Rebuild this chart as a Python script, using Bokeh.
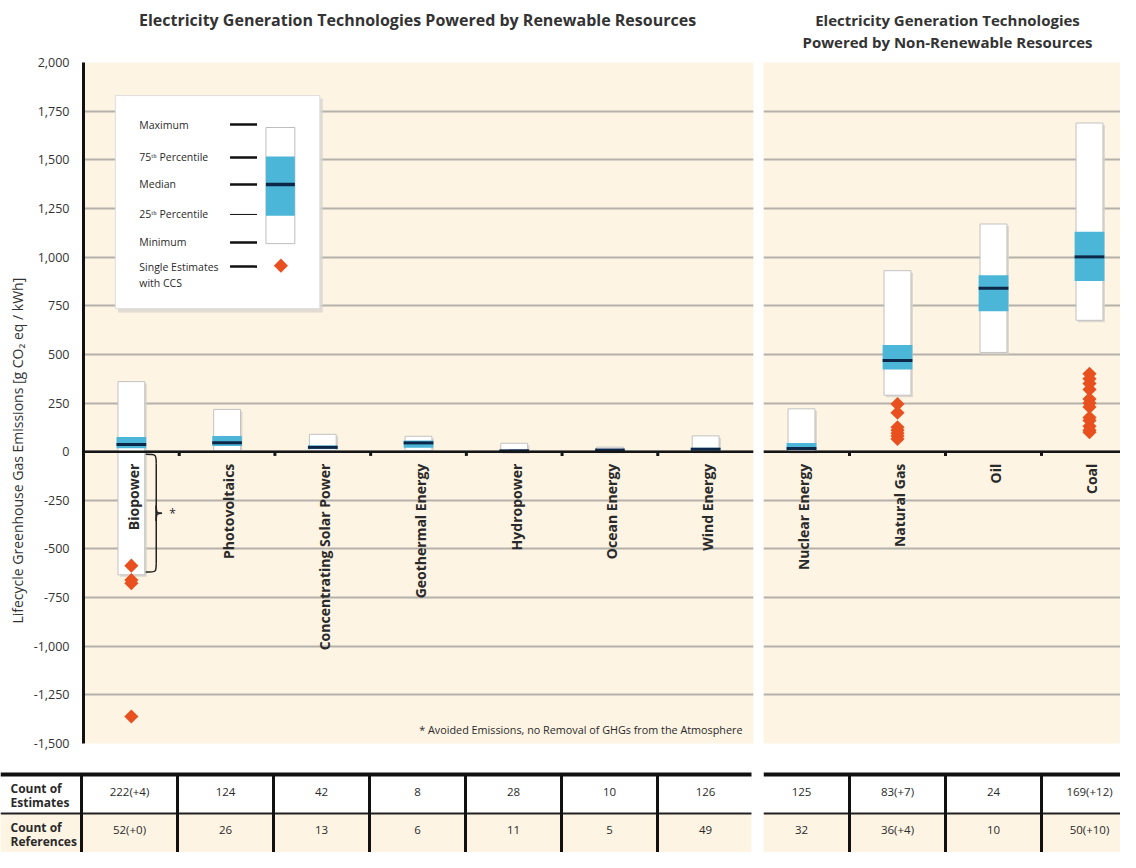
import math
from bokeh.plotting import figure
from bokeh.layouts import row, column
from bokeh.models import Range1d, FixedTicker, NumeralTickFormatter, Span
from bokeh.core.properties import value
from bokeh.embed import file_html
from bokeh.resources import INLINE

# ---------------- data ----------------
ren_tech = ["Biopower", "Photovoltaics", "Concentrating Solar Power", "Geothermal Energy",
            "Hydropower", "Ocean Energy", "Wind Energy"]
ren_min = [-633, 5, 7, 6, 0, 2, 2]
ren_q1 = [18, 29, 14, 20, 3, 6, 8]
ren_med = [37, 46, 22, 45, 4, 8, 12]
ren_q3 = [75, 80, 32, 57, 7, 9, 20]
ren_max = [360, 217, 89, 79, 43, 23, 81]
ren_estimates = ["222(+4)", "124", "42", "8", "28", "10", "126"]
ren_references = ["52(+0)", "26", "13", "6", "11", "5", "49"]

non_tech = ["Nuclear Energy", "Natural Gas", "Oil", "Coal"]
non_min = [1, 290, 510, 675]
non_q1 = [8, 422, 722, 877]
non_med = [16, 469, 840, 1001]
non_q3 = [45, 548, 907, 1130]
non_max = [220, 930, 1170, 1689]
non_estimates = ["125", "83(+7)", "24", "169(+12)"]
non_references = ["32", "36(+4)", "10", "50(+10)"]

bio_ccs = [-586, -660, -676, -1361]
gas_ccs = [245, 200, 125, 110, 95, 80, 65]
coal_ccs = [400, 375, 350, 320, 270, 250, 230, 175, 160, 130, 110, 100]

y_ticks = list(range(-1500, 2001, 250))

title_left = "Electricity Generation Technologies Powered by Renewable Resources"
title_right = ["Electricity Generation Technologies", "Powered by Non-Renewable Resources"]
y_title = "Lifecycle Greenhouse Gas Emissions [g CO\u2082 eq / kWh]"

# ---------------- style ----------------
BEIGE = "#fdf4e3"
BLUE = "#4cb6d8"
NAVY = "#0c2748"
ORANGE = "#e8511f"
GRID = "#b4b1aa"
TXT = "#2a2a2a"
FONT = value("Open Sans")
FONT_NAME = "Open Sans"

Y0, Y1 = -1500, 2000
TITLE_H = 52
MB_TOP, MB_BOT = 10, 17
TOP_H = MB_TOP + 681 + MB_BOT
TAB_H = 92
LAB_W = 30
LEFT_W, RIGHT_W = 763 - LAB_W, 357
CAT_PX = 96.0
LEFT_B, GAP_B = 81 - LAB_W, 10
RIGHT_START = 1 - 38 / CAT_PX
RIGHT_END = 4 + 31 / CAT_PX
Y_RANGE = Range1d(Y0, Y1)


def blank_fig(width, height, xr, yr, mbt=0, mbb=0):
    f = figure(width=width, height=height, x_range=xr, y_range=yr,
               output_backend="svg", toolbar_location=None, title=None,
               min_border_left=0, min_border_right=0, min_border_top=mbt, min_border_bottom=mbb)
    f.axis.visible = False
    f.grid.visible = False
    f.outline_line_color = None
    f.background_fill_color = "white"
    f.border_fill_color = "white"
    return f


def base_fig(width, x_range, mbl, mbr):
    p = figure(width=width, height=TOP_H, x_range=x_range, y_range=Y_RANGE,
               output_backend="svg", toolbar_location=None, title=None,
               min_border_left=mbl, min_border_right=mbr, min_border_top=MB_TOP,
               min_border_bottom=MB_BOT)
    p.background_fill_color = BEIGE
    p.border_fill_color = "white"
    p.outline_line_color = None
    p.xgrid.visible = False
    p.ygrid.ticker = FixedTicker(ticks=y_ticks)
    p.ygrid.grid_line_color = GRID
    p.ygrid.grid_line_width = 2
    p.xaxis.visible = False
    return p


def draw_panel(p, names, mins, q1, med, q3, maxs):
    n = len(names)
    xs = list(range(1, n + 1))
    hw, bw = 0.14, 0.155
    dx, dy = 2 / CAT_PX, 2 / 0.1946
    p.quad(left=[x - hw + dx for x in xs], right=[x + hw + dx for x in xs],
           bottom=[m - dy for m in mins], top=[m - dy for m in maxs],
           fill_color="#d6d1c8", fill_alpha=0.8, line_color=None)
    p.quad(left=[x - hw for x in xs], right=[x + hw for x in xs], bottom=mins, top=maxs,
           fill_color="white", line_color="#c2c2c2", line_width=1)
    p.quad(left=[x - bw for x in xs], right=[x + bw for x in xs], bottom=q1, top=q3,
           fill_color=BLUE, line_color=None)
    p.segment(x0=[x - bw for x in xs], x1=[x + bw for x in xs], y0=med, y1=med,
              line_color=NAVY, line_width=3)
    p.add_layout(Span(location=0, dimension="width", line_color="#151515", line_width=2.5))
    bounds = [x + 0.5 for x in xs[:-1]]
    p.segment(x0=bounds, x1=bounds, y0=[0] * len(bounds), y1=[-22] * len(bounds),
              line_color="#151515", line_width=3)
    p.text(x=[x + 0.02 for x in xs], y=[-62] * n, text=names, angle=math.pi / 2,
           text_align="right", text_baseline="middle", text_font=FONT,
           text_font_style="bold", text_font_size="14px", text_color=TXT)


def diamonds(p, xpos, vals, size=10):
    p.scatter(x=[xpos] * len(vals), y=vals, marker="square", angle=math.pi / 4, size=size,
              fill_color=ORANGE, line_color=None)


# ---------------- titles row ----------------
tf1 = blank_fig(LAB_W + LEFT_W, TITLE_H, Range1d(0, LAB_W + LEFT_W), Range1d(TITLE_H, 0))
tf1.text(x=[417], y=[19], text=[title_left], text_align="center", text_baseline="middle",
         text_font=FONT, text_font_style="bold", text_font_size="16px", text_color="#333333")
tf2 = blank_fig(RIGHT_W, TITLE_H, Range1d(0, RIGHT_W), Range1d(TITLE_H, 0))
tf2.text(x=[184, 184], y=[19, 41], text=title_right, text_align="center",
         text_baseline="middle", text_font=FONT, text_font_style="bold",
         text_font_size="15px", text_color="#333333")

# ---------------- y-axis title column ----------------
p0 = blank_fig(LAB_W, TOP_H, Range1d(0, LAB_W), Y_RANGE, MB_TOP, MB_BOT)
p0.text(x=[17], y=[5], text=[y_title], angle=math.pi / 2, text_align="center",
        text_baseline="middle", text_font=FONT, text_font_size="14px", text_color="#333333")

# ---------------- left (renewable) panel ----------------
p1 = base_fig(LEFT_W, Range1d(0.5, 7.5), LEFT_B, GAP_B)
p1.yaxis.ticker = FixedTicker(ticks=y_ticks)
p1.yaxis.formatter = NumeralTickFormatter(format="0,0")
p1.yaxis.axis_line_width = 3
p1.yaxis.axis_line_color = "#111111"
p1.yaxis.major_tick_line_color = None
p1.yaxis.minor_tick_line_color = None
p1.yaxis.major_label_text_font = FONT_NAME
p1.yaxis.major_label_text_font_size = "12.5px"
p1.yaxis.major_label_text_color = "#333333"
p1.yaxis.major_label_standoff = 8

draw_panel(p1, ren_tech, ren_min, ren_q1, ren_med, ren_q3, ren_max)
diamonds(p1, 1, bio_ccs)

# brace for biopower's negative range (avoided emissions)
bmin = ren_min[0]
mid = bmin / 2.0
bx, hx, tx = 1.26, 1.15, 1.32
p1.bezier(x0=[hx, bx, bx, tx, bx], y0=[-14, -60, mid - 40, mid, mid + 40],
          x1=[bx, bx, tx, bx, bx], y1=[-60, mid - 40, mid, mid + 40, bmin + 60],
          cx0=[bx, bx, bx, bx, bx], cy0=[-14, -60, mid - 5, mid, mid + 40],
          cx1=[bx, bx, bx, bx, bx], cy1=[-14, mid - 40, mid, mid + 5, bmin + 60],
          line_color="#222222", line_width=1.5)
p1.bezier(x0=[bx], y0=[bmin + 60], x1=[hx], y1=[bmin + 14], cx0=[bx], cy0=[bmin + 14],
          cx1=[bx], cy1=[bmin + 14], line_color="#222222", line_width=1.5)
p1.text(x=[1.43], y=[mid], text=["*"], text_align="center", text_baseline="middle",
        text_font=FONT, text_font_size="12px", text_color=TXT)

p1.text(x=[7.385], y=[-1429], text=["* Avoided Emissions, no Removal of GHGs from the Atmosphere"],
        text_align="right", text_baseline="middle", text_font=FONT, text_font_size="10.8px",
        text_color=TXT)

# legend (decoration, placed in data space)
p1.quad(left=[0.86], right=[3.0], bottom=[715], top=[1815], fill_color="#d9d5cd",
        fill_alpha=0.8, line_color=None)
p1.quad(left=[0.833], right=[2.969], bottom=[735], top=[1830], fill_color="white",
        line_color="#dddddd")
leg_labels = ["Maximum", "75\u1d57\u02b0 Percentile", "Median", "25\u1d57\u02b0 Percentile",
              "Minimum", "Single Estimates"]
leg_y = [1681, 1512, 1373, 1219, 1075, 951]
leg_w = [2.5, 2.5, 2.5, 1, 2.5, 2.5]
p1.text(x=[1.083] * 6, y=leg_y, text=leg_labels, text_align="left", text_baseline="middle",
        text_font=FONT, text_font_size="10.5px", text_color=TXT)
p1.text(x=[1.083], y=[866], text=["with CCS"], text_align="left", text_baseline="middle",
        text_font=FONT, text_font_size="10.5px", text_color=TXT)
p1.segment(x0=[2.031] * 6, x1=[2.313] * 6, y0=leg_y, y1=leg_y, line_color="#111111",
           line_width=leg_w)
p1.quad(left=[2.406], right=[2.708], bottom=[1069], top=[1666], fill_color="white",
        line_color="#bdbdbd")
p1.quad(left=[2.406], right=[2.708], bottom=[1213], top=[1517], fill_color=BLUE, line_color=None)
p1.segment(x0=[2.406], x1=[2.708], y0=[1373], y1=[1373], line_color=NAVY, line_width=3.5)
p1.scatter(x=[2.5625], y=[956], marker="square", angle=math.pi / 4, size=10,
           fill_color=ORANGE, line_color=None)

# ---------------- right (non-renewable) panel ----------------
p2 = base_fig(RIGHT_W, Range1d(RIGHT_START, RIGHT_END), 0, 0)
p2.yaxis.visible = False
draw_panel(p2, non_tech, non_min, non_q1, non_med, non_q3, non_max)
diamonds(p2, 2, gas_ccs)
diamonds(p2, 4, coal_ccs)

# ---------------- tables ----------------
T_TOP, T_SEP = 14, 53


def draw_table(t, x_left, x_right, vlines, est, ref):
    n = len(est)
    xs = list(range(1, n + 1))
    t.quad(left=[x_left], right=[x_right], top=[T_SEP], bottom=[TAB_H], fill_color=BEIGE,
           line_color=None)
    t.segment(x0=[x_left], x1=[x_right], y0=[T_TOP], y1=[T_TOP], line_color="#111111",
              line_width=4)
    t.segment(x0=[x_left], x1=[x_right], y0=[T_SEP], y1=[T_SEP], line_color="#222222",
              line_width=2)
    t.segment(x0=vlines, x1=vlines, y0=[T_TOP] * len(vlines), y1=[TAB_H] * len(vlines),
              line_color="#111111", line_width=3)
    t.text(x=xs, y=[31] * n, text=est, text_align="center", text_baseline="middle",
           text_font=FONT, text_font_size="11.5px", text_color=TXT)
    t.text(x=xs, y=[69] * n, text=ref, text_align="center", text_baseline="middle",
           text_font=FONT, text_font_size="11.5px", text_color=TXT)


tl_start = 0.5 - 81 / CAT_PX
tl_end = 7.5 + GAP_B / CAT_PX
t1 = blank_fig(LEFT_W + LAB_W, TAB_H, Range1d(tl_start, tl_end), Range1d(TAB_H, 0))
draw_table(t1, tl_start, 7.5 - 2 / CAT_PX, [0.5, 1.5, 2.5, 3.5, 4.5, 5.5, 6.5],
           ren_estimates, ren_references)
t1.text(x=[tl_start + 10 / CAT_PX] * 4, y=[28, 42, 67, 81],
        text=["Count of", "Estimates", "Count of", "References"], text_align="left",
        text_baseline="middle", text_font=FONT, text_font_style="bold",
        text_font_size="12px", text_color=TXT)

t2 = blank_fig(RIGHT_W, TAB_H, Range1d(RIGHT_START, RIGHT_END), Range1d(TAB_H, 0))
draw_table(t2, RIGHT_START, RIGHT_END, [1.5, 2.5, 3.5], non_estimates, non_references)

layout = column(row(tf1, tf2), row(p0, p1, p2), row(t1, t2))
open("out.html", "w").write(file_html(layout, INLINE))
